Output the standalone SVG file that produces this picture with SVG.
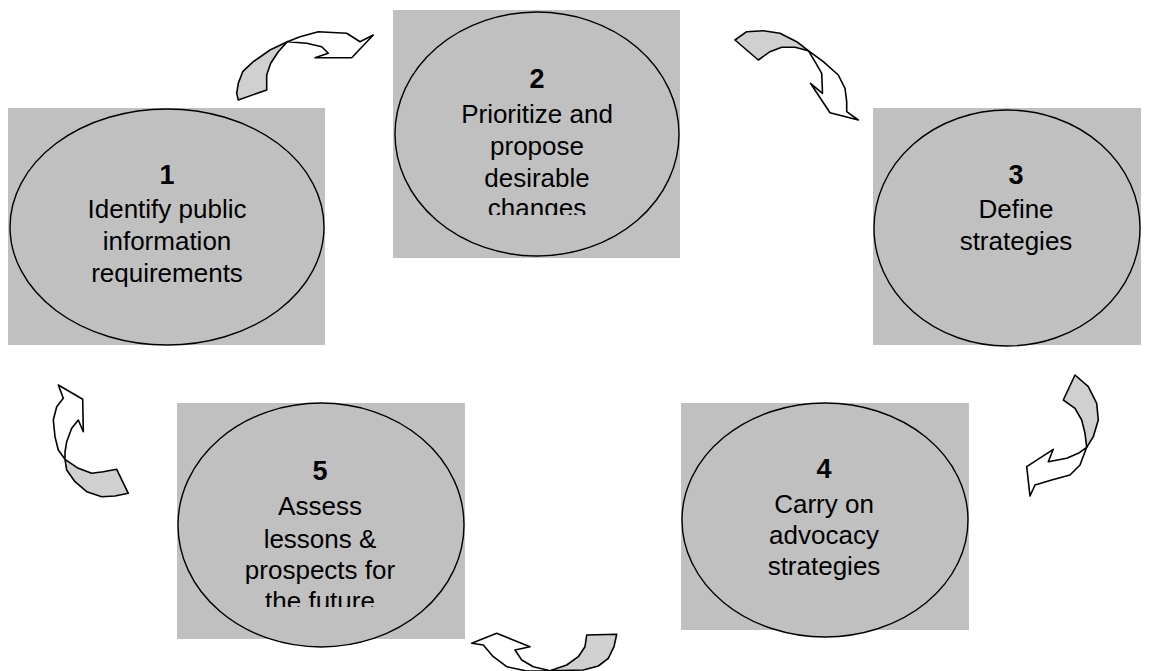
<svg xmlns="http://www.w3.org/2000/svg" width="1149" height="671" viewBox="0 0 1149 671">
<style>
.box{fill:#c0c0c0;stroke:none}
.ell{fill:#c0c0c0;stroke:#000;stroke-width:1.4}
.num{font-family:"Liberation Sans",Arial,sans-serif;font-weight:bold;font-size:27px;fill:#000;text-anchor:middle}
.lbl{font-family:"Liberation Sans",Arial,sans-serif;font-size:26px;fill:#000;text-anchor:middle}
.ag{fill:#d0d0d0;stroke:#000;stroke-width:1.6;stroke-linejoin:round}
.aw{fill:#fff;stroke:#000;stroke-width:1.6;stroke-linejoin:round}
</style>
<defs>
<clipPath id="c2"><rect x="393" y="0" width="290" height="215"/></clipPath>
<clipPath id="c5"><rect x="177" y="390" width="290" height="217"/></clipPath>
</defs>
<rect width="1149" height="671" fill="#fff"/>
<g id="node1">
<rect class="box" x="8" y="108" width="317" height="237"/>
<ellipse class="ell" cx="167" cy="227" rx="157" ry="118"/>
<text class="num" x="167" y="184">1</text>
<text class="lbl" x="167" y="218">Identify public</text>
<text class="lbl" x="167" y="250">information</text>
<text class="lbl" x="167" y="282">requirements</text>
</g>
<g id="node2">
<rect class="box" x="393" y="10" width="287" height="248"/>
<ellipse class="ell" cx="537" cy="134" rx="142" ry="122"/>
<text class="num" x="537" y="88">2</text>
<g clip-path="url(#c2)">
<text class="lbl" x="537" y="123">Prioritize and</text>
<text class="lbl" x="537" y="155">propose</text>
<text class="lbl" x="537" y="187">desirable</text>
<text class="lbl" x="537" y="217">changes</text>
</g>
</g>
<g id="node3">
<rect class="box" x="873" y="108" width="268" height="237"/>
<ellipse class="ell" cx="1007" cy="228" rx="133" ry="118"/>
<text class="num" x="1016" y="184">3</text>
<text class="lbl" x="1016" y="218">Define</text>
<text class="lbl" x="1016" y="250">strategies</text>
</g>
<g id="node4">
<rect class="box" x="681" y="403" width="288" height="227"/>
<ellipse class="ell" cx="825" cy="520" rx="143" ry="117"/>
<text class="num" x="824" y="478">4</text>
<text class="lbl" x="824" y="513">Carry on</text>
<text class="lbl" x="824" y="544">advocacy</text>
<text class="lbl" x="824" y="575">strategies</text>
</g>
<g id="node5">
<rect class="box" x="177" y="403" width="288" height="236"/>
<ellipse class="ell" cx="321" cy="525" rx="143" ry="122"/>
<text class="num" x="320" y="480">5</text>
<g clip-path="url(#c5)">
<text class="lbl" x="320" y="515">Assess</text>
<text class="lbl" x="320" y="548">lessons &amp;</text>
<text class="lbl" x="320" y="579">prospects for</text>
<text class="lbl" x="320" y="610">the future</text>
</g>
</g>
<g id="connectors">
<g id="arrow1to2">
<polygon class="ag" points="238.3,100 236.7,93.3 238.3,83.3 242.7,71.7 253.3,61.7 270,50 287.3,41.7 278.3,51.7 270.7,63.3 266.7,75 266.7,90"/>
<polygon class="aw" points="287.3,41.7 300,36.7 318.3,31.7 346.7,33.3 360,41.7 373.3,35 351.7,57.7 315,57.7 328.3,53.3 321.7,46.7 306.7,43.3"/>
</g>
<g id="arrow2to3">
<polygon class="ag" points="735,40 746.7,31.7 763.3,30.7 780,33.3 796.7,41.7 808.3,50.7 795,47.3 781.7,47.3 770,51.7 758.3,60"/>
<polygon class="aw" points="808.3,50.7 823.3,61.7 838.3,75 845,88.3 846.7,101.7 846.7,111.7 858.3,120 830,112.7 810.5,83.3 822.5,93.3 821.7,73.3 815,61.7"/>
</g>
<g id="arrow3to4">
<polygon class="ag" points="1075,375 1088.3,386.7 1096.7,403.3 1098.3,420 1093.3,436.7 1086.7,447.3 1085,433.3 1081.7,420 1075,408.3 1063.3,400"/>
<polygon class="aw" points="1086.7,447.3 1080,465 1070,475 1051.7,480 1035,485 1030,496 1026.7,466.7 1053.3,449.3 1048.3,461.7 1066.7,458.3 1078.3,453.3"/>
</g>
<g id="arrow4to5">
<polygon class="ag" points="586.7,635 616.7,634.3 614,646.7 608.3,658.3 598.3,666 583.3,670 550,670.7 566.7,665 578.3,656.7 585,646.7"/>
<polygon class="aw" points="550,670.7 533.3,666.7 521.7,660 515,650 530,646.7 496.7,633.3 471.7,643.3 483.3,645 493.3,656.7 506.7,666.7 526.7,671"/>
</g>
<g id="arrow5to1">
<polygon class="ag" points="65,459.3 78.3,468.3 91.7,473.3 103.3,471.7 116.7,469.3 128.3,493.3 115,496 101.7,496.7 86.7,491.7 75,481.7 66.7,470"/>
<polygon class="aw" points="65,459.3 58.3,450 55,436.7 53.3,420 56.7,406.7 63.3,398.3 58.3,385 82.7,399.3 83.3,431.7 78.3,420 71.7,428.3 66.7,441.7 65,452"/>
</g>
</g>
</svg>
